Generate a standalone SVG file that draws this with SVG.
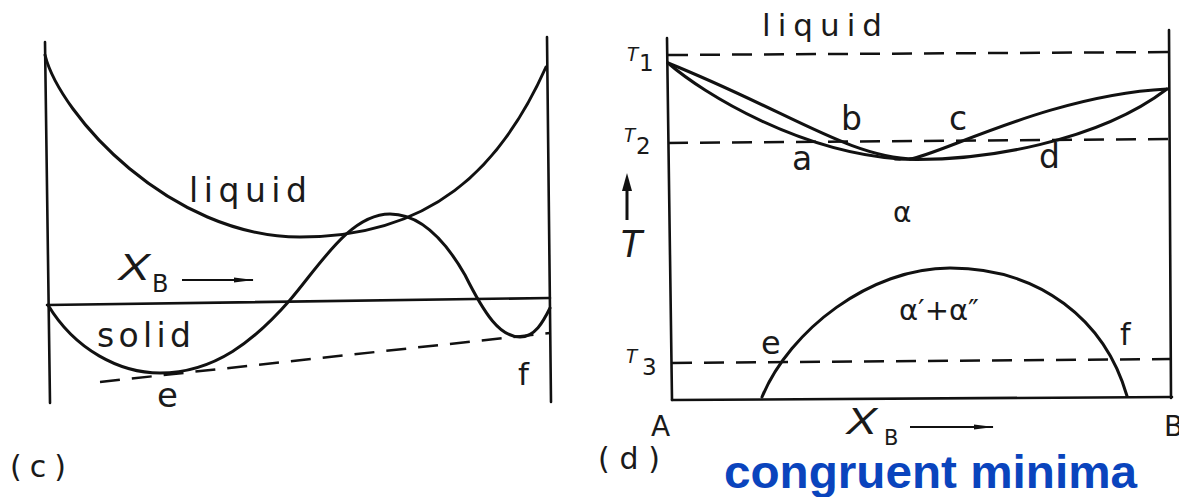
<svg xmlns="http://www.w3.org/2000/svg" width="1179" height="497" viewBox="0 0 1179 497">
<defs>
<style>
.ln{fill:none;stroke:#111;stroke-width:2.6;stroke-linecap:round}
.cv{fill:none;stroke:#111;stroke-width:3;stroke-linecap:round}
.ds{fill:none;stroke:#111;stroke-width:2.5;stroke-dasharray:20 12}
.lb{font-family:"DejaVu Sans",sans-serif;fill:#1a1a1a}
.it{font-family:"Liberation Sans",sans-serif;font-style:italic;fill:#1a1a1a}
.bl{font-family:"Liberation Sans",sans-serif;font-weight:bold;fill:#0a44bd}
</style>
<marker id="ah" viewBox="0 0 20 8" refX="19" refY="4" markerWidth="20" markerHeight="8" markerUnits="userSpaceOnUse" orient="auto">
<path d="M0,1.5 L20,4 L0,6.5 Z" fill="#111"/>
</marker>
</defs>
<rect width="1179" height="497" fill="#fff"/>

<!-- Panel (c) -->
<g id="panel-c">
<g id="c-axes">
<line class="ln" x1="45" y1="42" x2="50" y2="403"/>
<line class="ln" x1="547" y1="37" x2="551" y2="402"/>
<line class="ln" x1="47" y1="305" x2="550" y2="298"/>
</g>
<g id="c-liquid-curve">
<path class="cv" d="M45,55 C60,115 170,237 300,237 C430,237 500,170 546,67"/>
</g>
<g id="c-solid-curve">
<path class="cv" d="M48,305 C75,350 120,373 160,373 C215,373 255,340 290,300 C320,265 350,214 390,214 C420,214 445,240 465,275 C485,315 500,337 520,337 C535,337 543,322 550,308"/>
</g>
<g id="c-tangent">
<line class="ds" x1="100" y1="382" x2="550" y2="333"/>
</g>
<g id="c-labels">
<text class="lb" x="189" y="202" font-size="33" textLength="118" lengthAdjust="spacing">liquid</text>
<text class="lb" x="97" y="347" font-size="33" textLength="94" lengthAdjust="spacing">solid</text>
<text class="lb" x="157" y="407" font-size="34">e</text>
<text class="lb" x="518" y="385" font-size="31">f</text>
<text class="lb" x="10" y="477" font-size="30" textLength="56" lengthAdjust="spacing">(c)</text>
<text class="it" x="118" y="280" font-size="37" textLength="32" lengthAdjust="spacingAndGlyphs">X</text>
<text class="lb" x="152" y="292" font-size="24">B</text>
<line x1="182" y1="280" x2="253" y2="280" stroke="#111" stroke-width="2.2" marker-end="url(#ah)"/>
</g>
</g>

<!-- Panel (d) -->
<g id="panel-d">
<g id="d-axes">
<line class="ln" x1="667" y1="38" x2="672" y2="400"/>
<line class="ln" x1="1169" y1="30" x2="1171" y2="398"/>
<line class="ln" x1="672" y1="400" x2="1172" y2="397"/>
</g>
<g id="d-isotherms">
<line class="ds" x1="668" y1="55" x2="1170" y2="52"/>
<line class="ds" x1="668" y1="143" x2="1170" y2="139"/>
<line class="ds" x1="672" y1="363" x2="1170" y2="359"/>
</g>
<g id="d-liquidus">
<path class="cv" d="M668,63 C790,112 850,158 915,159"/>
<path class="cv" d="M910,159 C940,155 1050,95 1167,89"/>
</g>
<g id="d-solidus">
<path class="cv" d="M668,63 C705,95 800,152 900,159"/>
<path class="cv" d="M895,159 C985,163 1100,140 1167,89"/>
</g>
<g id="d-miscibility-gap">
<path class="cv" d="M762,397 C790,330 870,268 950,268 C1040,268 1105,320 1127,396"/>
</g>
<g id="d-labels">
<text class="lb" x="762" y="36" font-size="31" textLength="120" lengthAdjust="spacing">liquid</text>
<text class="it" x="626" y="61" font-size="20">T</text>
<text class="lb" x="639" y="71" font-size="23">1</text>
<text class="it" x="623" y="142" font-size="20">T</text>
<text class="lb" x="636" y="154" font-size="23">2</text>
<text class="it" x="625" y="363" font-size="20">T</text>
<text class="lb" x="642" y="375" font-size="23">3</text>
<g id="d-T-arrow">
<line x1="627" y1="220" x2="627" y2="186" stroke="#111" stroke-width="3"/>
<path d="M627,173 L632,191 L622,191 Z" fill="#111"/>
</g>
<text class="it" x="619" y="257" font-size="38">T</text>
<text class="lb" x="841" y="130" font-size="33">b</text>
<text class="lb" x="949" y="130" font-size="33">c</text>
<text class="lb" x="792" y="170" font-size="33">a</text>
<text class="lb" x="1039" y="168" font-size="33">d</text>
<text class="lb" x="893" y="222" font-size="28">α</text>
<text class="lb" x="899" y="320" font-size="29">α′+α″</text>
<text class="lb" x="761" y="354" font-size="32">e</text>
<text class="lb" x="1120" y="345" font-size="30">f</text>
<text class="lb" x="651" y="436" font-size="28">A</text>
<text class="lb" x="1164" y="436" font-size="28">B</text>
<text class="it" x="846" y="434" font-size="36" textLength="31" lengthAdjust="spacingAndGlyphs">X</text>
<text class="lb" x="884" y="445" font-size="21">B</text>
<line x1="910" y1="427" x2="993" y2="427" stroke="#111" stroke-width="2.2" marker-end="url(#ah)"/>
<text class="lb" x="598" y="469" font-size="30" textLength="62" lengthAdjust="spacing">(d)</text>
</g>
</g>
<text class="bl" x="724" y="488" font-size="47" textLength="413" lengthAdjust="spacingAndGlyphs">congruent minima</text>
</svg>
